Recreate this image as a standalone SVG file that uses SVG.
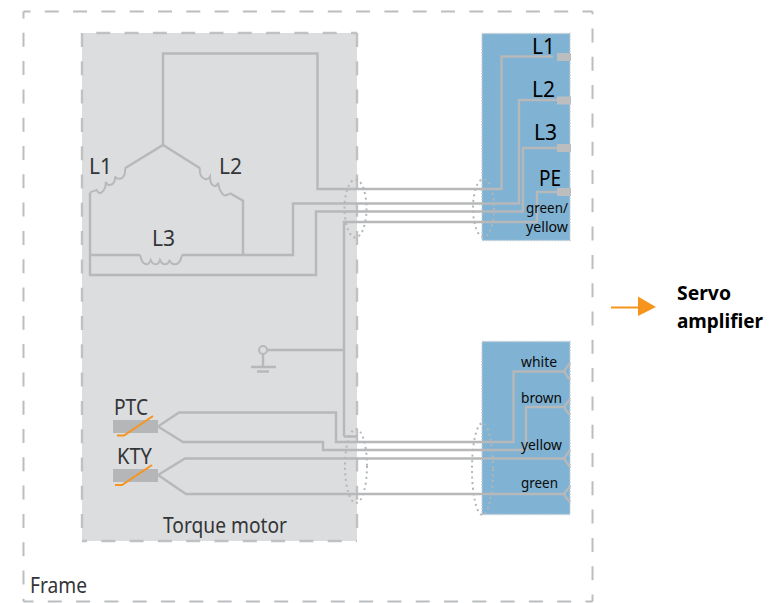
<svg xmlns="http://www.w3.org/2000/svg" width="774" height="603" viewBox="0 0 774 603">
<style>
text{font-family:"Noto Sans","Open Sans","Liberation Sans",sans-serif}
.w{fill:none;stroke:#b7b8ba;stroke-width:2.400}
.c{fill:none;stroke:#b7b8ba;stroke-width:2}
.e{fill:none;stroke:#b5b6b8;stroke-width:2;stroke-dasharray:2 3.500}
.f{fill:none;stroke:#bcbdbf;stroke-width:2;stroke-dasharray:14 14.300}
.g{fill:none;stroke:#c0c1c3;stroke-width:2.400;stroke-dasharray:14 14.300}
.d{fill:#333538;font-size:21px}
.k{fill:#000;font-size:21px}
.s{fill:#0a0a0a;font-size:14.500px}
.o{fill:none;stroke:#f7941d;stroke-width:2}
.t{fill:#bcbdbf}
.m{fill:#b5b6b8}
</style>
<rect width="774" height="603" fill="#fff"/>
<g id="frame">
<path class="f" stroke-dashoffset="7" d="M23.500 11.500H592.500"/><path class="f" stroke-dashoffset="7" d="M23.500 11.500V601.500"/><path class="f" stroke-dashoffset="7" d="M592.500 601.500H23.500"/><path class="f" stroke-dashoffset="7" d="M592.500 601.500V11.500"/>
<text x="30" y="593" class="d" textLength="57" lengthAdjust="spacingAndGlyphs">Frame</text></g>
<g id="torque-motor"><rect x="82" y="33" width="275" height="508" fill="#dcddde"/>
<path class="g" d="M82 33V541"/><path class="g" stroke-dashoffset="14" d="M82 33H357"/><path class="g" stroke-dashoffset="9" d="M82 541H357"/><path class="g" d="M357 33V541"/>
<text x="163" y="533" class="d" textLength="124" lengthAdjust="spacingAndGlyphs">Torque motor</text></g>
<g id="terminal-power"><rect x="482" y="33.500" width="88" height="207" fill="#7fb2d3" stroke="#c4cdd3" stroke-width="1.500" stroke-dasharray="1.500 1.500"/></g>
<g id="terminal-sensor"><rect x="482" y="341.500" width="88" height="173" fill="#7fb2d3" stroke="#c4cdd3" stroke-width="1.500" stroke-dasharray="1.500 1.500"/></g>
<g id="connectors">
<path class="w" d="M163 145V53.500H317.500V189H501.500V56.500H553"/>
<path class="w" d="M90 192.700V275H316V211.500H523V148H557"/>
<path class="w" d="M90 255H140M182 255H293V203.500H519V100H557"/>
<path class="w" d="M243 255V200.700L230 193.300"/>
<path class="w" d="M344 436.500V222H537V192H557"/>
<path class="w" d="M344 436.500H357M344 350H267"/>
<path class="w" d="M125 168.300L163 145L200 168.300"/>
<path class="c" d="M125 168.300C125.500 173 124.500 177 121 178.500C118 179.500 116 178 115 176.700C115.500 180 114 184 110.500 184.800C108 185.300 106.300 183.500 105.700 181.700C106 185 105 190 101.500 192.500C99.500 194 97.500 192 96.700 190C95 191 92 191 90 192.700"/>
<path class="c" d="M200 168.300C199 173 201 178 205 179C207 179.500 209 178.500 210 176.700C210 180 211 185 214.500 186C216 186.500 217.500 185 218.300 182.700C218.500 186 220 191 223 194.500C225 196 228 195 230 193.300"/>
<path class="c" d="M140 255C141 260 143 264.300 146.700 264.300C149 264.300 150 262 150.700 260C151.500 262 153 264.300 155.500 264.300C158 264.300 159.500 262 160 260C161 262 162.500 264.300 165 264.300C167.500 264.300 169 262 169.500 260C170 262 172 264.300 175 264.300C179 264.300 181 260 182 255"/>
<path class="w" d="M158 426.500L179 412.500H336V442H513.500V371.500H566"/>
<path class="w" d="M158 426.500L183 442H323V450H526V407H566"/>
<path class="w" d="M158 475L185 458.500H566"/>
<path class="w" d="M158 475L186 494H566"/>
<path class="w" d="M570 363C568 366 566 368 564 371.500C566 375 568 377 570 380M570 399C568 402 566 404 564 407C566 411 568 413 570 415M570 450C568 453 566 455 564 458.500C566 462 568 464 570 467M570 486C568 489 566 491 564 494C566 498 568 500 570 502"/>
<circle cx="263" cy="350" r="4" fill="none" stroke="#b7b8ba" stroke-width="2"/>
<path class="w" d="M263 354V367M251 367H276M257 371.500H269"/>
<ellipse class="e" cx="355.500" cy="208.500" rx="11" ry="29"/>
<ellipse class="e" cx="483.500" cy="208" rx="10.500" ry="29"/>
<ellipse class="e" cx="356" cy="466" rx="11" ry="37"/>
<ellipse class="e" cx="482.500" cy="469" rx="10.500" ry="46"/>
</g>
<g id="terminals"><rect class="t" x="557" y="53" width="14" height="8"/><rect class="t" x="557" y="96.500" width="14" height="8"/><rect class="t" x="557" y="144" width="14" height="8"/><rect class="t" x="557" y="188" width="14" height="8"/></g>
<g id="ptc"><rect class="m" x="113" y="420" width="45" height="13"/><path class="o" d="M117 435.500H124L153 416"/><text x="114" y="415" class="d" textLength="34" lengthAdjust="spacingAndGlyphs">PTC</text></g>
<g id="kty"><rect class="m" x="113" y="469" width="45" height="13"/><path class="o" d="M115 485H122L152 465"/><text x="117" y="464" class="d" textLength="35" lengthAdjust="spacingAndGlyphs">KTY</text></g>
<g id="labels">
<text x="89" y="174" class="d">L1</text><text x="219" y="174" class="d">L2</text><text x="152" y="246" class="d">L3</text>
<text x="532" y="54" class="k">L1</text><text x="532" y="97" class="k">L2</text><text x="534" y="140" class="k">L3</text><text x="539" y="186" class="k" textLength="22" lengthAdjust="spacingAndGlyphs">PE</text>
<text x="526" y="213" class="s" textLength="42" lengthAdjust="spacingAndGlyphs">green/</text><text x="526" y="232" class="s" textLength="42" lengthAdjust="spacingAndGlyphs">yellow</text>
<text x="521" y="367" class="s" textLength="36" lengthAdjust="spacingAndGlyphs">white</text><text x="521" y="403" class="s" textLength="41" lengthAdjust="spacingAndGlyphs">brown</text><text x="521" y="450" class="s" textLength="41" lengthAdjust="spacingAndGlyphs">yellow</text><text x="521" y="488" class="s" textLength="37" lengthAdjust="spacingAndGlyphs">green</text>
</g>
<g id="servo-amplifier">
<path d="M611 307.500H640" stroke="#f7941d" stroke-width="2" fill="none"/><path d="M638 296.500L656 307L638 316Z" fill="#f7941d"/>
<text x="677" y="300" fill="#000" font-size="19" font-weight="700" textLength="54" lengthAdjust="spacingAndGlyphs">Servo</text><text x="677" y="328" fill="#000" font-size="19" font-weight="700" textLength="86" lengthAdjust="spacingAndGlyphs">amplifier</text>
</g>
</svg>
